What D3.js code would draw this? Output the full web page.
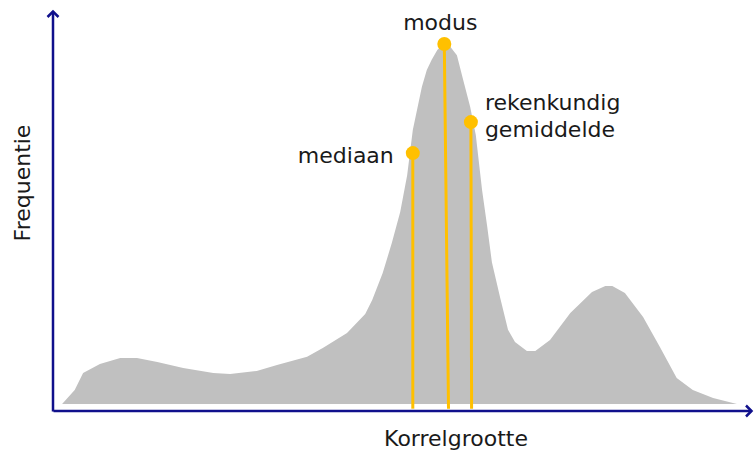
<!DOCTYPE html>
<html>
<head>
<meta charset="utf-8">
<script src="https://cdn.jsdelivr.net/npm/d3@7"></script>
<style>
  body { margin: 0; background: #fff; }
  text { font-family: 'DejaVu Sans', sans-serif; fill: #1a1a1a; }
</style>
</head>
<body>
<svg id="chart" width="754" height="450"></svg>
<script>
// korrelgrootte (x) en frequentie (y)
const korrel = [1.3, 3.1, 4.3, 6.7, 9.6, 12, 14.9, 18.6, 22.9, 25.3, 29.1, 32, 36.3, 38.6, 42,
  44.6, 45.6, 47.1, 48.4, 49.6, 50.6, 51.4, 52.7, 53.4, 54.1, 54.9, 55.7, 56.7, 57.7, 58.6,
  59.6, 60.4, 61.3, 62, 62.7, 63.9, 65, 66, 67.7, 68.9, 71, 73.9, 77, 78.9, 79.9, 81.7,
  84.3, 86.7, 89.1, 91.4, 94.3, 97.7];
const freq = [0, 3.9, 8.6, 11.1, 12.8, 12.8, 11.7, 10, 8.6, 8.3, 9.2, 10.8, 13.1, 15.6, 19.7,
  25, 28.9, 36.4, 44.7, 53.3, 63.6, 76.1, 88.1, 92.8, 95.6, 98.3, 100, 99.4, 96.9, 90,
  82.5, 74.7, 59.4, 49.7, 39.4, 29.4, 20.6, 17.2, 14.7, 14.7, 17.8, 25.3, 31.1, 32.8, 32.8, 30.8,
  24.2, 15.8, 7.2, 3.9, 1.7, 0];

// kengetallen
const markerNames = ['mediaan', 'modus', 'rekenkundig gemiddelde'];
const markerX = [51.4, 55.9, 59.7];
const markerXBase = [51.4, 56.5, 59.8];
const markerY = [69.7, 100, 78.3];

const xLabel = 'Korrelgrootte';
const yLabel = 'Frequentie';

const width = 754, height = 450;
const axisColor = '#10108c';
const gold = '#ffc000';

const x = d3.scaleLinear().domain([0, 100]).range([53, 753]);
const y = d3.scaleLinear().domain([0, 100]).range([404, 44]);

const svg = d3.select('#chart');

svg.append('defs')
  .append('marker')
  .attr('id', 'arrow')
  .attr('markerUnits', 'userSpaceOnUse')
  .attr('markerWidth', 14)
  .attr('markerHeight', 14)
  .attr('refX', 7)
  .attr('refY', 7)
  .attr('orient', 'auto')
  .style('overflow', 'visible')
  .append('path')
  .attr('d', 'M1.5,1.5L7,7L1.5,12.5')
  .attr('fill', 'none')
  .attr('stroke', axisColor)
  .attr('stroke-width', 2.5);

const area = d3.area()
  .x((d, i) => x(korrel[i]))
  .y0(y(0))
  .y1((d) => y(d));

svg.append('path')
  .datum(freq)
  .attr('fill', '#c0c0c0')
  .attr('d', area);

// assen
const xAxis = d3.axisBottom(d3.scaleLinear().range([53, 751])).ticks(0).tickSizeOuter(0);
const yAxis = d3.axisLeft(d3.scaleLinear().range([411, 11])).ticks(0).tickSizeOuter(0);

svg.append('g')
  .attr('transform', 'translate(0,410.5)')
  .call(xAxis)
  .call((g) => g.select('.domain')
    .attr('stroke', axisColor)
    .attr('stroke-width', 2.5)
    .attr('marker-end', 'url(#arrow)'));

svg.append('g')
  .attr('transform', 'translate(52.5,0)')
  .call(yAxis)
  .call((g) => g.select('.domain')
    .attr('stroke', axisColor)
    .attr('stroke-width', 2.5)
    .attr('marker-end', 'url(#arrow)'));

// kengetallen: lijnen en stippen
const markers = svg.append('g')
  .selectAll('g')
  .data(markerNames)
  .join('g');

markers.append('line')
  .attr('x1', (d, i) => x(markerX[i]))
  .attr('y1', (d, i) => y(markerY[i]))
  .attr('x2', (d, i) => x(markerXBase[i]))
  .attr('y2', y(-1.3))
  .attr('stroke', gold)
  .attr('stroke-width', 3);

markers.append('circle')
  .attr('cx', (d, i) => x(markerX[i]))
  .attr('cy', (d, i) => y(markerY[i]))
  .attr('r', 7)
  .attr('fill', gold);

// labels
svg.append('text')
  .attr('x', x(markerX[1]) - 4)
  .attr('y', 30)
  .attr('text-anchor', 'middle')
  .style('font-size', '22px')
  .text(markerNames[1]);

svg.append('text')
  .attr('x', x(markerX[0]) - 19)
  .attr('y', 163)
  .attr('text-anchor', 'end')
  .style('font-size', '22px')
  .text(markerNames[0]);

const meanLabel = svg.append('text')
  .attr('x', x(markerX[2]) + 14)
  .attr('y', 110)
  .style('font-size', '22px');
markerNames[2].split(' ').forEach((w, i) => {
  meanLabel.append('tspan')
    .attr('x', x(markerX[2]) + 14)
    .attr('dy', i === 0 ? 0 : 27)
    .text(w);
});

svg.append('text')
  .attr('x', 456)
  .attr('y', 446)
  .attr('text-anchor', 'middle')
  .style('font-size', '22px')
  .text(xLabel);

svg.append('text')
  .attr('transform', 'translate(30,183) rotate(-90)')
  .attr('text-anchor', 'middle')
  .style('font-size', '22px')
  .text(yLabel);
</script>
</body>
</html>
